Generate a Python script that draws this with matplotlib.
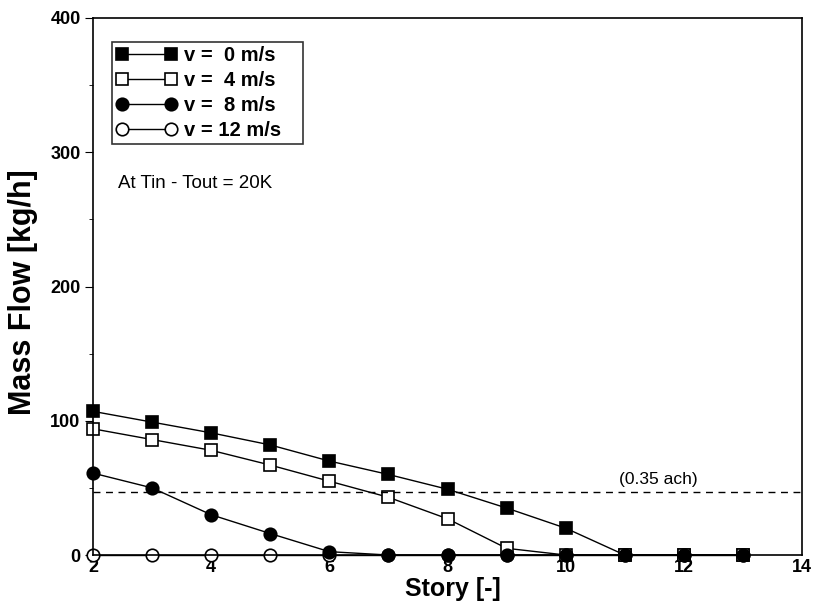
# Caudal másico por planta para distintas velocidades de viento

import matplotlib.pyplot as plt
from matplotlib.ticker import MultipleLocator

plt.rcParams['font.family'] = ['Liberation Sans', 'DejaVu Sans']

# Datos
story = [2, 3, 4, 5, 6, 7, 8, 9, 10, 11, 12, 13]
flow_v0 = [107, 99, 91, 82, 70, 60, 49, 35, 20, 0, 0, 0]
flow_v4 = [94, 86, 78, 67, 55, 43, 27, 5, 0, 0, 0, 0]
flow_v8 = [61, 50, 30, 16, 2.5, 0, 0, 0, 0, 0, 0, 0]
flow_v12 = [0, 0, 0, 0, 0, 0, 0, 0, 0, 0, 0, 0]
ach_level = 47

fig = plt.figure(figsize=(8.13, 6.12), dpi=100)
ax = fig.add_axes([0.1144, 0.0931, 0.8721, 0.8775])

style = dict(color='k', linewidth=1.0, markersize=9, markeredgewidth=1.2, clip_on=False)
l12, = ax.plot(story, flow_v12, marker='o', markerfacecolor='white', label='v = 12 m/s', **style)
l0, = ax.plot(story, flow_v0, marker='s', markerfacecolor='k', label='v =  0 m/s', **style)
l4, = ax.plot(story, flow_v4, marker='s', markerfacecolor='white', label='v =  4 m/s', **style)
l8, = ax.plot(story, flow_v8, marker='o', markerfacecolor='k', label='v =  8 m/s', **style)

# Nivel de 0.35 ach
ax.axhline(ach_level, color='k', linestyle=(0, (5, 4)), linewidth=1.0)
ax.text(11.56, ach_level + 4, '(0.35 ach)', fontsize=12.5, ha='center', va='bottom')
ax.text(2.42, 277, 'At Tin - Tout = 20K', fontsize=13.5, ha='left', va='center')

ax.set_xlim(2, 14)
ax.set_ylim(0, 400)
ax.set_xticks(range(2, 15, 2))
ax.yaxis.set_major_locator(MultipleLocator(100))
ax.yaxis.set_minor_locator(MultipleLocator(50))
ax.tick_params(axis='x', length=0, pad=3, labelsize=13)
ax.tick_params(axis='y', which='major', direction='out', length=6, pad=3, labelsize=13)
ax.tick_params(axis='y', which='minor', direction='out', length=3)
for lbl in ax.get_xticklabels() + ax.get_yticklabels():
    lbl.set_fontweight('bold')
for sp in ax.spines.values():
    sp.set_linewidth(1.2)

ax.set_xlabel('Story [-]', fontsize=18, fontweight='bold')
ax.xaxis.set_label_coords(0.508, -0.041)
ax.set_ylabel('Mass Flow [kg/h]', fontsize=22, fontweight='bold')
ax.yaxis.set_label_coords(-0.078, 0.49)

# Leyenda
leg = ax.legend([l0, l4, l8, l12], [l0.get_label(), l4.get_label(), l8.get_label(), l12.get_label()],
                loc='upper left', bbox_to_anchor=(0.027, 0.755, 0.269, 0.2), mode='expand',
                frameon=True, fancybox=False, edgecolor='k', handlelength=3.0,
                handletextpad=0.35, borderpad=0.2, labelspacing=0.3, borderaxespad=0,
                prop={'weight': 'bold', 'size': 14.5}, numpoints=2)
leg.get_frame().set_linewidth(1.2)

fig.savefig('out.png', dpi=100)
plt.close()
